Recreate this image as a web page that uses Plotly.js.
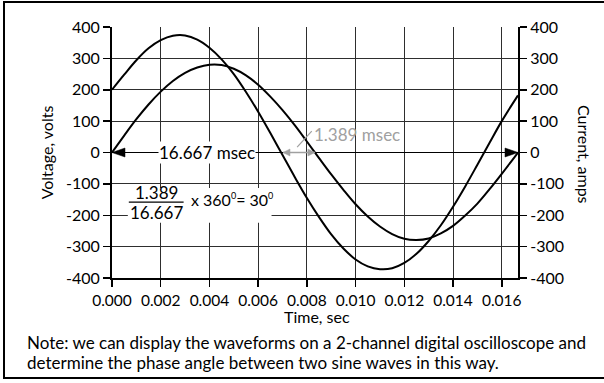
<!DOCTYPE html>
<html>
<head>
<meta charset="utf-8">
<script src="https://cdn.plot.ly/plotly-3.0.1.min.js"></script>
<style>
  html, body { margin: 0; padding: 0; background: #fff; }
  #wrap { position: relative; width: 604px; height: 383px; overflow: hidden; }
  #chart { position: absolute; left: 0; top: 0; width: 604px; height: 383px; }
  #frame { position: absolute; left: 3px; top: 1px; width: 604px; height: 374px; border: 2px solid #000; pointer-events: none; }
</style>
</head>
<body>
<div id="wrap"><div id="chart"></div><div id="frame"></div></div>
<script>
// Time samples (s)
const time_s = [0, 0.0005, 0.001, 0.0015, 0.002, 0.0025, 0.003, 0.0035, 0.004, 0.0045,
  0.005, 0.0055, 0.006, 0.0065, 0.007, 0.0075, 0.008, 0.0085, 0.009, 0.0095,
  0.010, 0.0105, 0.011, 0.0115, 0.012, 0.0125, 0.013, 0.0135, 0.014, 0.0145,
  0.015, 0.0155, 0.016, 0.016667];
// Voltage (volts)
const voltage_V = [200, 248, 294, 332, 358, 372, 373, 360, 334, 297,
  250, 193, 130, 62, -8, -78, -145, -206, -261, -306,
  -341, -363, -372, -369, -352, -323, -282, -232, -173, -108,
  -39, 31, 100, 182];
// Current (amps)
const current_A = [0, 54, 106, 153, 194, 228, 254, 271, 280, 279,
  267, 246, 216, 178, 135, 87, 35, -18, -70, -119,
  -165, -204, -236, -260, -275, -279, -274, -258, -234, -201,
  -163, -117, -68, 0];
// Axis ticks
const x_ticks = [0, 0.002, 0.004, 0.006, 0.008, 0.010, 0.012, 0.014, 0.016];
const x_tick_labels = ["0.000", "0.002", "0.004", "0.006", "0.008", "0.010", "0.012", "0.014", "0.016"];
const y_ticks = [-400, -300, -200, -100, 0, 100, 200, 300, 400];
// Texts
const x_title = "Time, sec";
const y_title = "Voltage, volts";
const y2_title = "Current, amps";
const note_lines = ["Note: we can display the waveforms on a 2-channel digital oscilloscope and",
  "determine the phase angle between two sine waves in this way."];
// Annotation values
const period_ms = "16.667";
const shift_ms = "1.389";
const v_zero_cross = 0.00702;
const i_zero_cross = 0.00833;
const t_end = 0.016667;

const FONT = "Lato, 'Open Sans', sans-serif";
const L = 112, R = 86, T = 27, B = 105, W = 604, H = 383;
const PW = W - L - R, PH = H - T - B;
const px = v => (v - L) / PW;
const py = v => (H - B - v) / PH;
const GRID = '#2e2e2e';
// pixel -> data unit helpers for decorations
const dx = p => p * t_end / PW;
const dy = p => p * 800 / PH;

function head(tip, dir, len, half, color) {
  const b = tip - dir * dx(len);
  return { type: 'path', xref: 'x', yref: 'y', layer: 'above',
    path: `M ${tip},0 L ${b},${dy(half)} L ${b},${-dy(half)} Z`,
    fillcolor: color, line: { color: color, width: 0.5 } };
}

const traces = [
  { x: time_s, y: voltage_V, type: 'scatter', mode: 'lines', name: 'Voltage',
    line: { color: '#000', width: 2, shape: 'spline', smoothing: 1 }, yaxis: 'y' },
  { x: time_s, y: current_A, type: 'scatter', mode: 'lines', name: 'Current',
    line: { color: '#000', width: 2, shape: 'spline', smoothing: 1 }, yaxis: 'y2' }
];

const txt = (size, color) => ({ family: FONT, size: size, color: color || '#000' });

const axisCommon = {
  range: [-400, 400], tickvals: y_ticks, ticktext: y_ticks.map(String),
  ticks: 'outside', ticklen: 7, tickwidth: 1.5, tickcolor: '#000',
  showline: true, linecolor: '#000', linewidth: 2,
  tickfont: txt(16), fixedrange: true
};

const paperText = (x, y, text, opts) => Object.assign({
  x: px(x), y: py(y), xref: 'paper', yref: 'paper', xanchor: 'center', yanchor: 'middle',
  text: text, showarrow: false, font: txt(16)
}, opts || {});

const layout = {
  width: W, height: H,
  margin: { l: L, r: R, t: T, b: B, pad: 0 },
  paper_bgcolor: '#fff', plot_bgcolor: '#fff',
  showlegend: false,
  font: txt(16),
  xaxis: {
    range: [0, t_end], tickvals: x_ticks, ticktext: x_tick_labels,
    ticks: 'outside', ticklen: 7, tickwidth: 1.5, tickcolor: '#000',
    showline: true, linecolor: '#000', linewidth: 2,
    showgrid: true, gridcolor: GRID, gridwidth: 1, zeroline: false,
    tickfont: txt(15.5)
  },
  yaxis: Object.assign({}, axisCommon, {
    showgrid: true, gridcolor: GRID, gridwidth: 1,
    zeroline: true, zerolinecolor: '#000', zerolinewidth: 1.5,
    title: { text: y_title, font: txt(16), standoff: 8 }
  }),
  yaxis2: Object.assign({}, axisCommon, {
    overlaying: 'y', side: 'right', showgrid: false, zeroline: false
  }),
  shapes: [
    // white box behind the fraction
    { type: 'rect', xref: 'x', yref: 'y', x0: 0.00065, x1: 0.00655, y0: -224, y1: -113,
      fillcolor: '#fff', line: { width: 0 }, layer: 'between' },
    // fraction bar
    { type: 'line', xref: 'x', yref: 'y', x0: 0.00069, x1: 0.00294, y0: -158, y1: -158,
      line: { color: '#000', width: 1.2 }, layer: 'above' },
    // period arrowheads
    head(0, -1, 13, 4.5, '#000'),
    head(t_end, 1, 13, 4.5, '#000'),
    // phase-shift double arrow (gray)
    { type: 'line', xref: 'x', yref: 'y', x0: v_zero_cross, x1: i_zero_cross, y0: 0, y1: 0,
      line: { color: '#a0a0a0', width: 1.5 }, layer: 'above' },
    head(v_zero_cross, -1, 7, 3.5, '#a0a0a0'),
    head(i_zero_cross, 1, 7, 3.5, '#a0a0a0'),
    // gray leader line
    { type: 'line', xref: 'x', yref: 'y', x0: 0.0076, x1: 0.0082, y0: 17, y1: 68,
      line: { color: '#a0a0a0', width: 1.2 }, layer: 'above' }
  ],
  annotations: [
    { x: 0.00389, y: 0, xref: 'x', yref: 'y', xanchor: 'center', yanchor: 'middle',
      text: period_ms + ' msec', showarrow: false, bgcolor: '#fff', borderpad: 0, font: txt(17) },
    { x: 0.0082, y: 58, xref: 'x', yref: 'y', xanchor: 'left', yanchor: 'middle',
      text: shift_ms + ' msec', showarrow: false, font: txt(17, '#a0a0a0') },
    // fraction
    { x: 0.00183, y: -128, xref: 'x', yref: 'y', xanchor: 'center', yanchor: 'middle',
      text: shift_ms, showarrow: false, font: txt(17) },
    { x: 0.00183, y: -191, xref: 'x', yref: 'y', xanchor: 'center', yanchor: 'middle',
      text: period_ms, showarrow: false, font: txt(17) },
    { x: 0.00315, y: -150, xref: 'x', yref: 'y', xanchor: 'left', yanchor: 'middle',
      text: 'x 360<sup><span style="font-size:9px">0</span></sup>= 30<sup><span style="font-size:9px">0</span></sup>',
      showarrow: false, font: txt(16) },
    // right axis title and x axis title
    paperText(585, 154, y2_title, { textangle: 90 }),
    paperText(317, 316, x_title),
    // note
    paperText(25, 342, note_lines[0], { xanchor: 'left', font: txt(17) }),
    paperText(25, 362, note_lines[1], { xanchor: 'left', font: txt(17) })
  ]
};

Plotly.newPlot('chart', traces, layout, { staticPlot: true, displayModeBar: false });
</script>
</body>
</html>
